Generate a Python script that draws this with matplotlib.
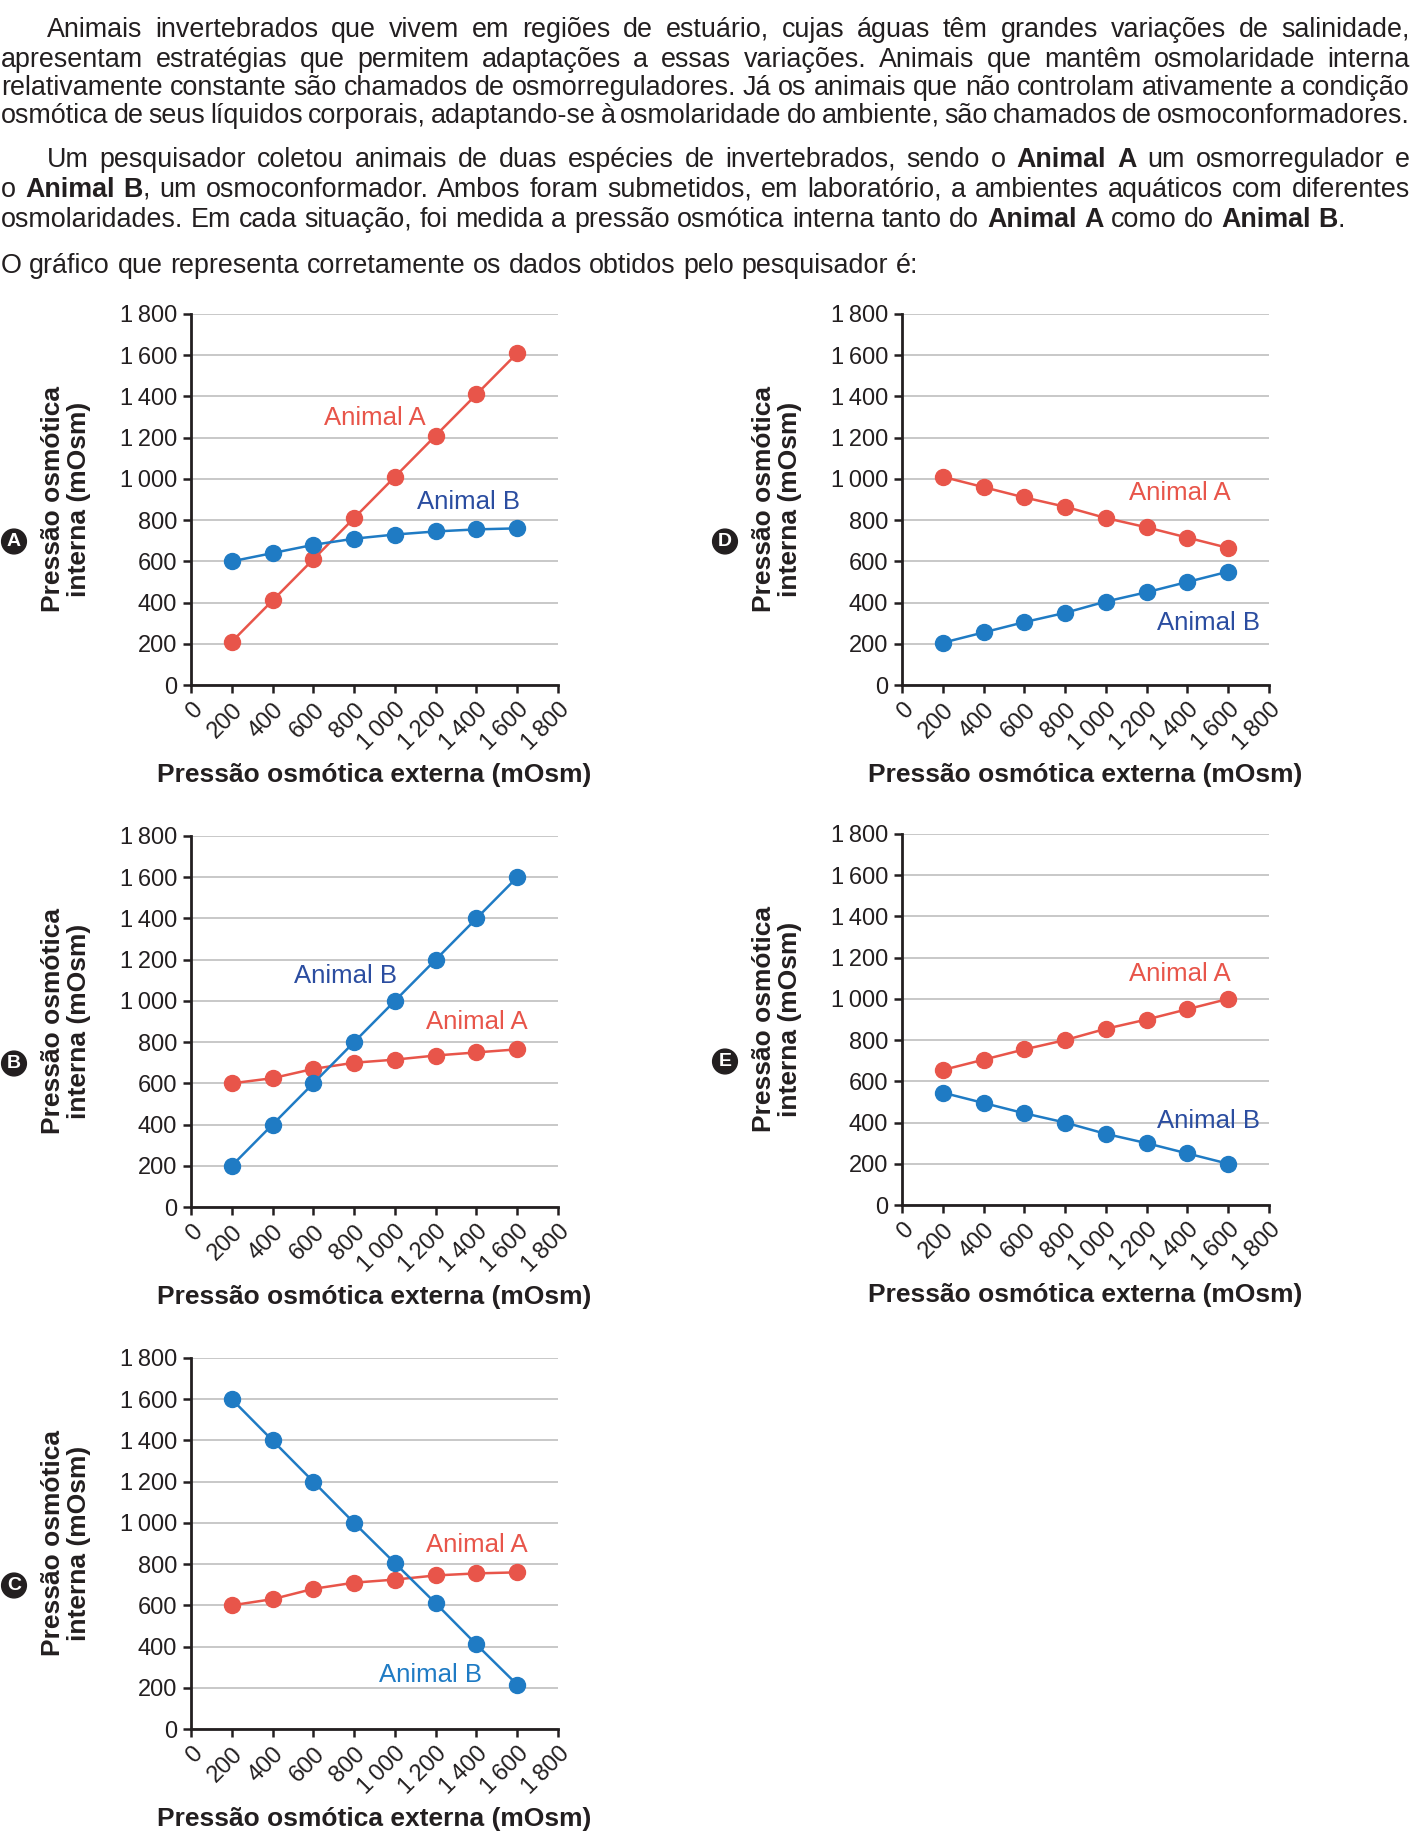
import matplotlib
matplotlib.use('Agg')
import matplotlib.pyplot as plt
from matplotlib.ticker import FuncFormatter

plt.rcParams['font.family'] = ['Liberation Sans', 'DejaVu Sans']

W, H = 1413, 1841
TXT = '#231f20'
RED = '#e8554a'
BLUE = '#1f7bc4'
DARKBLUE = '#2b4da0'

# dados
ext = [200, 400, 600, 800, 1000, 1200, 1400, 1600]
ticks = [0, 200, 400, 600, 800, 1000, 1200, 1400, 1600, 1800]

a_animal_a = [210, 410, 610, 810, 1010, 1210, 1410, 1610]
a_animal_b = [600, 640, 680, 710, 730, 745, 755, 760]
b_animal_a = [600, 625, 670, 700, 715, 735, 750, 765]
b_animal_b = [200, 400, 600, 800, 1000, 1200, 1400, 1600]
c_animal_a = [600, 630, 680, 710, 725, 745, 755, 760]
c_animal_b = [1600, 1400, 1200, 1000, 805, 610, 410, 215]
d_animal_a = [1010, 960, 910, 865, 810, 765, 715, 665]
d_animal_b = [205, 255, 305, 350, 405, 450, 500, 550]
e_animal_a = [655, 705, 755, 800, 855, 900, 950, 1000]
e_animal_b = [545, 495, 445, 400, 345, 300, 250, 200]

paragraph = [
    ('Animais invertebrados que vivem em regiões de estuário, cujas águas têm grandes variações de salinidade,', True, True),
    ('apresentam estratégias que permitem adaptações a essas variações. Animais que mantêm osmolaridade interna', False, True),
    ('relativamente constante são chamados de osmorreguladores. Já os animais que não controlam ativamente a condição', False, True),
    ('osmótica de seus líquidos corporais, adaptando-se à osmolaridade do ambiente, são chamados de osmoconformadores.', False, True),
    ('Um pesquisador coletou animais de duas espécies de invertebrados, sendo o **Animal A** um osmorregulador e', True, True),
    ('o **Animal B**, um osmoconformador. Ambos foram submetidos, em laboratório, a ambientes aquáticos com diferentes', False, True),
    ('osmolaridades. Em cada situação, foi medida a pressão osmótica interna tanto do **Animal A** como do **Animal B**.', False, False),
    ('O gráfico que representa corretamente os dados obtidos pelo pesquisador é:', False, False),
]
baselines = [37, 67, 95, 123, 167, 197, 227, 273]

fig = plt.figure(figsize=(W / 100, H / 100), dpi=100)
renderer = fig.canvas.get_renderer()
FS = 19.4


def parse(line):
    words = [[]]
    for i, seg in enumerate(line.split('**')):
        bold = i % 2 == 1
        for j, p in enumerate(seg.split(' ')):
            if j > 0:
                words.append([])
            if p:
                words[-1].append((p, bold))
    return [w for w in words if w]


def width(s, bold):
    t = fig.text(0, 0, s, fontsize=FS, fontweight='bold' if bold else 'normal')
    w = t.get_window_extent(renderer).width
    t.remove()
    return w


space = width('a a', False) - width('aa', False)
for (line, indent, justify), yb in zip(paragraph, baselines):
    words = parse(line)
    x0 = 47 if indent else 1
    wl = [[width(s, b) for s, b in w] for w in words]
    total = sum(sum(w) for w in wl)
    gap = (1410 - x0 - total) / (len(words) - 1) if justify else space
    x = x0
    for w, ws in zip(words, wl):
        for (s, b), pw in zip(w, ws):
            fig.text(x / W, 1 - yb / H, s, fontsize=FS, color=TXT,
                     fontweight='bold' if b else 'normal', va='baseline', ha='left')
            x += pw
        x += gap


def fmt(v, pos):
    v = int(v)
    if v >= 1000:
        return '%d\u2009%03d' % (v // 1000, v % 1000)
    return str(v)


def panel(letter, left, top, ya, yb, lab_a, lab_b, bcol):
    right = left + 367
    bottom = top + 371
    ax = fig.add_axes([left / W, 1 - bottom / H, 367 / W, 371 / H])
    ax.set_xlim(0, 1800)
    ax.set_ylim(0, 1800)
    ax.set_xticks(ticks)
    ax.set_yticks(ticks)
    ax.xaxis.set_major_formatter(FuncFormatter(fmt))
    ax.yaxis.set_major_formatter(FuncFormatter(fmt))
    ax.grid(axis='y', color='#c8c8c8', lw=1.4)
    ax.set_axisbelow(True)
    for s in ['top', 'right']:
        ax.spines[s].set_visible(False)
    for s in ['left', 'bottom']:
        ax.spines[s].set_linewidth(2)
        ax.spines[s].set_color(TXT)
    ax.tick_params(length=6, width=1.8, color=TXT, labelsize=17, labelcolor=TXT, pad=4)
    plt.setp(ax.get_xticklabels(), rotation=45, ha='right', va='top', rotation_mode='anchor')
    ax.plot(ext, ya, color=RED, lw=1.8, marker='o', ms=11.5, clip_on=False)
    ax.plot(ext, yb, color=BLUE, lw=1.8, marker='o', ms=11.5, clip_on=False)
    ax.text(lab_a[0], lab_a[1], 'Animal A', color=RED, fontsize=18.5, ha='center', va='center')
    ax.text(lab_b[0], lab_b[1], 'Animal B', color=bcol, fontsize=18.5, ha='center', va='center')
    cy = (top + bottom) / 2
    fig.text((left - 125) / W, 1 - cy / H, 'Pressão osmótica\ninterna (mOsm)', rotation=90,
             fontsize=19, fontweight='bold', color=TXT, ha='center', va='center',
             multialignment='center', linespacing=1.12)
    fig.text((left + right) / 2 / W, 1 - (bottom + 90) / H, 'Pressão osmótica externa (mOsm)',
             fontsize=19, fontweight='bold', color=TXT, ha='center', va='center')
    fig.text((left - 177) / W, 1 - (cy + 42) / H, letter, fontsize=14, fontweight='bold',
             color='white', ha='center', va='center',
             bbox=dict(boxstyle='circle,pad=0.2', fc=TXT, ec=TXT))
    return ax


panel('A', 191, 314, a_animal_a, a_animal_b, (900, 1297), (1362, 886), DARKBLUE)
panel('D', 902, 314, d_animal_a, d_animal_b, (1363, 931), (1501, 303), DARKBLUE)
panel('B', 191, 836, b_animal_a, b_animal_b, (1402, 897), (756, 1120), DARKBLUE)
panel('E', 902, 834, e_animal_a, e_animal_b, (1363, 1120), (1501, 406), DARKBLUE)
panel('C', 191, 1358, c_animal_a, c_animal_b, (1402, 891), (1177, 263), BLUE)

fig.savefig('out.png', dpi=100)
